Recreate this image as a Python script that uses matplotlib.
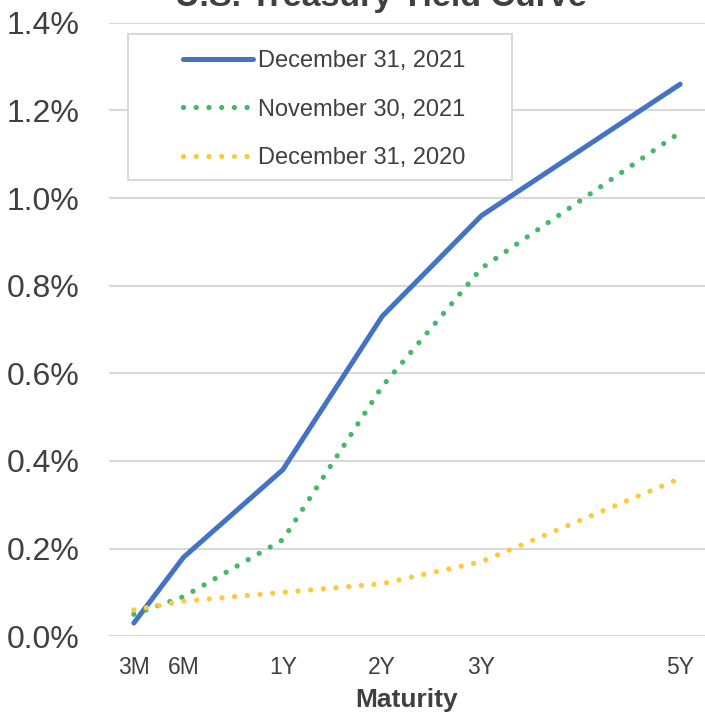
import numpy as np
import matplotlib.pyplot as plt
from matplotlib.patches import Rectangle

plt.rcParams['font.family'] = ['Liberation Sans', 'DejaVu Sans']

maturities = ['3M', '6M', '1Y', '2Y', '3Y', '5Y']
x_pos = [0.5, 1, 2, 3, 4, 6]

dec_2021 = [0.03, 0.18, 0.38, 0.73, 0.96, 1.26]
nov_2021 = [0.05, 0.09, 0.22, 0.57, 0.84, 1.15]
dec_2020 = [0.06, 0.08, 0.10, 0.12, 0.17, 0.36]

fig = plt.figure(figsize=(7.05, 7.14), dpi=100)
ax = fig.add_axes([0.1546, 0.109, 0.8454, 0.859])

dots = (0, (0.01, 2.4))
ax.plot(x_pos, dec_2021, color='#4472C4', lw=3.6, solid_capstyle='round',
        label='December 31, 2021', zorder=3)
ax.plot(x_pos, nov_2021, color='#47B76B', lw=3.8, linestyle=dots,
        dash_capstyle='round', label='November 30, 2021', zorder=3)
ax.plot(x_pos, dec_2020, color='#FFC93C', lw=3.8, linestyle=dots,
        dash_capstyle='round', label='December 31, 2020', zorder=3)

ax.set_xlim(0.25, 6.25)
ax.set_ylim(0, 1.4)
ax.set_yticks(np.arange(0, 1.41, 0.2))
ax.set_yticklabels(['%.1f%%' % v for v in np.arange(0, 1.41, 0.2)])
ax.set_xticks(x_pos)
ax.set_xticklabels(maturities)
ax.tick_params(axis='y', length=0, labelsize=23, labelcolor='#404040', pad=21)
ax.tick_params(axis='x', length=0, labelsize=16.5, labelcolor='#404040', pad=14)
ax.grid(axis='y', color='#D9D9D9', lw=1.5)
ax.set_axisbelow(True)
for s in ax.spines.values():
    s.set_visible(False)

ax.set_xlabel('Maturity', fontsize=19, fontweight='bold', color='#404040', labelpad=7)

# legend box drawn separately (Excel-style wide side padding)
ax.add_patch(Rectangle((128 / 705, 1 - 180 / 714), 384 / 705, 146 / 714,
                       transform=fig.transFigure, facecolor='white',
                       edgecolor='#D9D9D9', lw=1.5, zorder=4, clip_on=False))
leg = ax.legend(loc='upper left', bbox_to_anchor=(183 / 705, 1 - 50 / 714),
                bbox_transform=fig.transFigure, fontsize=17,
                handlelength=2.97, handletextpad=0.2, labelspacing=1.13,
                borderpad=0, borderaxespad=0, frameon=False, labelcolor='#404040')
leg.set_zorder(5)

fig.text(0.54, 0.9916, 'U.S. Treasury Yield Curve', fontsize=24.5, fontweight='bold',
         color='#404040', ha='center', va='baseline')

fig.savefig('out.png', dpi=100)
